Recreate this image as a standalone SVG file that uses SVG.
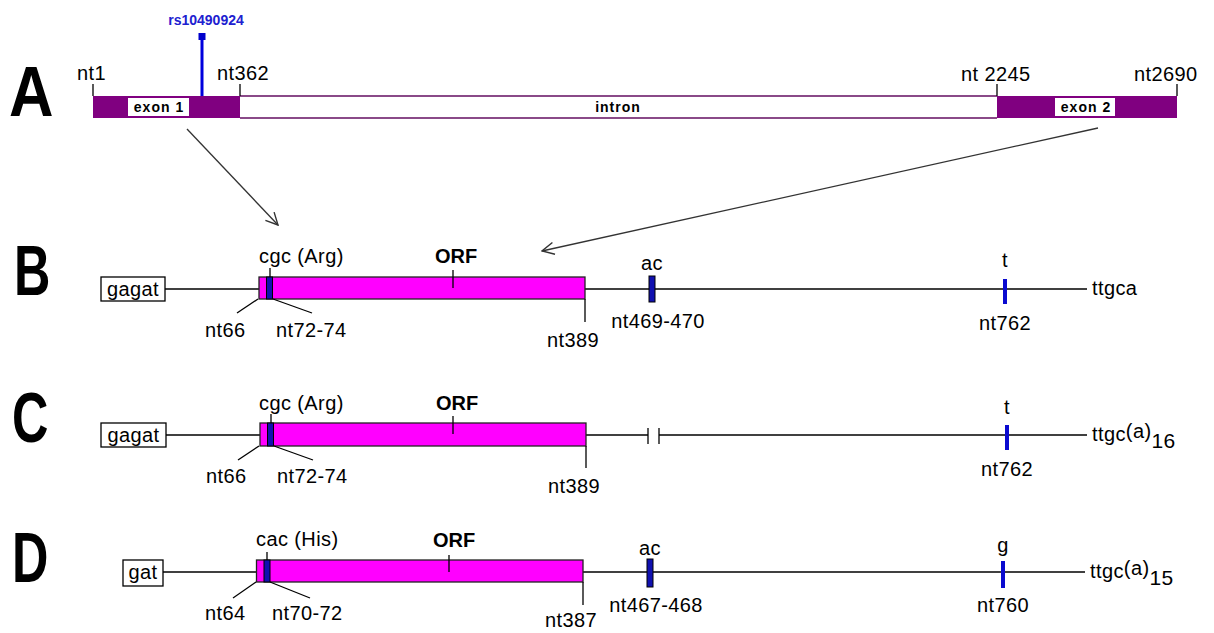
<svg xmlns="http://www.w3.org/2000/svg" width="1214" height="633" viewBox="0 0 1214 633">
<defs>
<style>
text{font-family:"Liberation Sans",Arial,sans-serif;fill:#000}
.big{font-size:70px;font-weight:bold}
.lbl{font-size:20px;letter-spacing:0.4px}
.orf{font-size:20px;font-weight:bold}
.ex{font-size:14px;font-weight:bold;letter-spacing:1px}
.tk{stroke:#000;stroke-width:1.3;fill:none}
.ln{stroke:#000;stroke-width:1.4;fill:none}
.pink{fill:#ff00ff;stroke:#222;stroke-width:1.3}
.cod{fill:#1010b0;stroke:#000;stroke-width:1}
.bar{fill:#0a0ad0}
.bx{fill:#fff;stroke:#000;stroke-width:1.3}
.purple{fill:#800080}
.arr{stroke:#333;stroke-width:1.3;fill:none}
</style>
<marker id="ah" markerWidth="14" markerHeight="14" refX="13" refY="7" orient="auto" markerUnits="userSpaceOnUse">
<path d="M1,1 L13,7 L1,13" fill="none" stroke="#333" stroke-width="1.4"/>
</marker>
</defs>
<rect width="1214" height="633" fill="#fff"/>

<g id="panelA">
<text class="big" transform="translate(9,116) scale(0.88,1)">A</text>
<rect class="purple" x="93" y="96" width="147" height="22"/>
<rect x="240" y="96" width="757" height="22" fill="#fff"/>
<line x1="240" y1="96" x2="997" y2="96" stroke="#8a4a88" stroke-width="2"/>
<line x1="240" y1="118" x2="997" y2="118" stroke="#8a4a88" stroke-width="2"/>
<rect class="purple" x="997" y="96" width="180" height="22"/>
<rect x="128" y="98" width="61" height="18" fill="#fff"/>
<text class="ex" x="159" y="112" text-anchor="middle">exon 1</text>
<text class="ex" x="618" y="112" text-anchor="middle">intron</text>
<rect x="1055" y="98" width="60" height="18" fill="#fff"/>
<text class="ex" x="1086" y="112" text-anchor="middle">exon 2</text>
<line class="tk" x1="93" y1="84" x2="93" y2="96"/>
<line class="tk" x1="240" y1="84" x2="240" y2="96"/>
<line class="tk" x1="997" y1="84" x2="997" y2="96"/>
<line class="tk" x1="1177" y1="84" x2="1177" y2="96"/>
<text class="lbl" x="77" y="80">nt1</text>
<text class="lbl" x="217" y="80">nt362</text>
<text class="lbl" x="961" y="81">nt 2245</text>
<text class="lbl" x="1134" y="81">nt2690</text>
<line x1="202" y1="38" x2="202" y2="96" stroke="#0000dd" stroke-width="3"/>
<rect x="198.5" y="33" width="7" height="7" fill="#0000cc"/>
<text x="206" y="25" text-anchor="middle" style="font-size:14px;font-weight:bold;fill:#2020d0">rs10490924</text>
</g>

<g id="connectors">
<line class="arr" x1="187" y1="129" x2="278" y2="225" marker-end="url(#ah)"/>
<line class="arr" x1="1098" y1="128" x2="542" y2="251" marker-end="url(#ah)"/>
</g>

<g id="panelB">
<text class="big" transform="translate(14,295) scale(0.72,1)">B</text>
<line class="ln" x1="165" y1="289" x2="259" y2="289"/>
<line class="ln" x1="585" y1="289" x2="1087" y2="289"/>
<rect class="bx" x="101" y="277" width="64" height="24"/>
<text class="lbl" x="133" y="296" text-anchor="middle">gagat</text>
<rect class="pink" x="259" y="277" width="326" height="22"/>
<rect class="cod" x="266.5" y="277" width="6" height="22"/>
<line class="tk" x1="270" y1="268" x2="270" y2="277"/>
<line class="tk" x1="453" y1="270" x2="453" y2="288"/>
<line class="tk" x1="258" y1="299" x2="237" y2="313"/>
<line class="tk" x1="273" y1="299" x2="312" y2="313"/>
<line class="tk" x1="585" y1="299" x2="585" y2="322"/>
<text class="lbl" x="259" y="263">cgc (Arg)</text>
<text class="orf" x="435" y="263">ORF</text>
<text class="lbl" x="205" y="337">nt66</text>
<text class="lbl" x="276" y="337">nt72-74</text>
<text class="lbl" x="547" y="347">nt389</text>
<rect class="cod" x="649" y="276" width="6" height="26"/>
<text class="lbl" x="652" y="270" text-anchor="middle">ac</text>
<text class="lbl" x="658" y="328" text-anchor="middle">nt469-470</text>
<rect class="bar" x="1003" y="279" width="4" height="25"/>
<text class="lbl" x="1005" y="267" text-anchor="middle">t</text>
<text class="lbl" x="1005" y="330" text-anchor="middle">nt762</text>
<text class="lbl" x="1092" y="295">ttgca</text>
</g>

<g id="panelC">
<text class="big" transform="translate(12,442) scale(0.72,1)">C</text>
<line class="ln" x1="166" y1="435" x2="260" y2="435"/>
<line class="ln" x1="586" y1="435" x2="648" y2="435"/>
<line class="ln" x1="659" y1="435" x2="1087" y2="435"/>
<line class="tk" x1="648" y1="428" x2="648" y2="444"/>
<line class="tk" x1="659" y1="428" x2="659" y2="444"/>
<rect class="bx" x="101" y="423" width="65" height="24"/>
<text class="lbl" x="133.5" y="442" text-anchor="middle">gagat</text>
<rect class="pink" x="260" y="423" width="326" height="23"/>
<rect class="cod" x="267.5" y="423" width="6" height="23"/>
<line class="tk" x1="271" y1="414" x2="271" y2="423"/>
<line class="tk" x1="453" y1="416" x2="453" y2="434"/>
<line class="tk" x1="259" y1="446" x2="238" y2="460"/>
<line class="tk" x1="274" y1="446" x2="313" y2="460"/>
<line class="tk" x1="586" y1="446" x2="586" y2="468"/>
<text class="lbl" x="259" y="410">cgc (Arg)</text>
<text class="orf" x="436" y="410">ORF</text>
<text class="lbl" x="206" y="483">nt66</text>
<text class="lbl" x="277" y="483">nt72-74</text>
<text class="lbl" x="548" y="493">nt389</text>
<rect class="bar" x="1005" y="425" width="4" height="25"/>
<text class="lbl" x="1007" y="414" text-anchor="middle">t</text>
<text class="lbl" x="1007" y="476" text-anchor="middle">nt762</text>
<text class="lbl" x="1092" y="441">ttgc<tspan dy="-3">(a)</tspan><tspan dy="10" style="font-size:21px">16</tspan></text>
</g>

<g id="panelD">
<text class="big" transform="translate(12,582) scale(0.72,1)">D</text>
<line class="ln" x1="161" y1="572" x2="256" y2="572"/>
<line class="ln" x1="583" y1="572" x2="1085" y2="572"/>
<rect class="bx" x="123" y="560" width="40" height="26"/>
<text class="lbl" x="143" y="579" text-anchor="middle">gat</text>
<rect class="pink" x="256.5" y="560" width="326.5" height="22"/>
<rect class="cod" x="264" y="560" width="6" height="22"/>
<line class="tk" x1="267" y1="552" x2="267" y2="560"/>
<line class="tk" x1="449" y1="555" x2="449" y2="572"/>
<line class="tk" x1="256" y1="582" x2="233" y2="598"/>
<line class="tk" x1="270" y1="582" x2="310" y2="598"/>
<line class="tk" x1="583" y1="582" x2="583" y2="605"/>
<text class="lbl" x="256" y="546">cac (His)</text>
<text class="orf" x="433" y="547">ORF</text>
<text class="lbl" x="205" y="620">nt64</text>
<text class="lbl" x="272" y="620">nt70-72</text>
<text class="lbl" x="545" y="627">nt387</text>
<rect class="cod" x="647" y="559" width="6" height="28"/>
<text class="lbl" x="650" y="555" text-anchor="middle">ac</text>
<text class="lbl" x="656" y="612" text-anchor="middle">nt467-468</text>
<rect class="bar" x="1001" y="561" width="4" height="27"/>
<text class="lbl" x="1003" y="552" text-anchor="middle">g</text>
<text class="lbl" x="1003" y="612" text-anchor="middle">nt760</text>
<text class="lbl" x="1090" y="578">ttgc<tspan dy="-3">(a)</tspan><tspan dy="10" style="font-size:21px">15</tspan></text>
</g>
</svg>
